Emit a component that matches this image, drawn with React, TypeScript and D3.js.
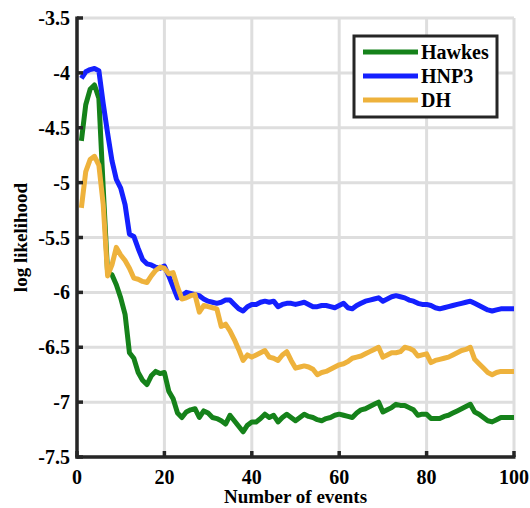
import React from "react";
import * as d3 from "d3";

const events: number[] = d3.range(1, 101);

const hawkes: number[] = [
  -4.62, -4.29, -4.15, -4.11, -4.23, -5.05, -5.82, -5.84, -5.93, -6.05,
  -6.2, -6.55, -6.6, -6.73, -6.8, -6.84, -6.76, -6.72, -6.74, -6.73,
  -6.9, -6.97, -7.1, -7.14, -7.09, -7.07, -7.06, -7.14, -7.08, -7.1,
  -7.14, -7.15, -7.17, -7.2, -7.12, -7.17, -7.22, -7.27, -7.21, -7.18,
  -7.18, -7.15, -7.11, -7.14, -7.12, -7.18, -7.14, -7.11, -7.14, -7.17,
  -7.14, -7.11, -7.13, -7.14, -7.16, -7.17, -7.15, -7.14, -7.12, -7.11,
  -7.12, -7.13, -7.14, -7.1, -7.07, -7.06, -7.04, -7.02, -7.0, -7.09,
  -7.07, -7.05, -7.02, -7.03, -7.03, -7.05, -7.07, -7.12, -7.11, -7.11,
  -7.15, -7.15, -7.15, -7.13, -7.12, -7.1, -7.08, -7.06, -7.04, -7.02,
  -7.09, -7.11, -7.14, -7.17, -7.18, -7.16, -7.14, -7.14, -7.14, -7.14,
];

const hnp3: number[] = [
  -4.05, -3.99, -3.97, -3.96, -3.98, -4.28, -4.55, -4.8, -4.97, -5.05,
  -5.2, -5.47, -5.49, -5.6, -5.7, -5.74, -5.75, -5.77, -5.78, -5.76,
  -5.85, -5.95, -6.05, -6.03, -6.0, -6.01, -6.02, -6.03, -6.06, -6.08,
  -6.09, -6.1, -6.09, -6.07, -6.07, -6.11, -6.15, -6.17, -6.13, -6.11,
  -6.11, -6.09, -6.08, -6.09, -6.08, -6.13, -6.11, -6.1, -6.1, -6.11,
  -6.1, -6.09, -6.11, -6.13, -6.13, -6.12, -6.12, -6.13, -6.14, -6.12,
  -6.1, -6.14, -6.15, -6.12, -6.1, -6.08, -6.07, -6.06, -6.05, -6.08,
  -6.06, -6.04, -6.03, -6.04, -6.05, -6.07, -6.08, -6.1, -6.11, -6.11,
  -6.12, -6.14, -6.15, -6.14, -6.13, -6.12, -6.11, -6.1, -6.09, -6.08,
  -6.1, -6.12, -6.14, -6.16, -6.17, -6.16, -6.15, -6.15, -6.15, -6.15,
];

const dh: number[] = [
  -5.23, -4.9, -4.79, -4.76, -4.84, -5.2, -5.85, -5.75, -5.59, -5.66,
  -5.71, -5.78, -5.87, -5.88, -5.9, -5.91, -5.85, -5.8, -5.77, -5.78,
  -5.83, -5.82, -5.95, -6.06, -6.05, -6.03, -6.02, -6.18, -6.12, -6.13,
  -6.14, -6.15, -6.31, -6.29, -6.35, -6.43, -6.52, -6.62, -6.57, -6.59,
  -6.57, -6.55, -6.53, -6.59, -6.6, -6.62, -6.57, -6.54, -6.62, -6.69,
  -6.68, -6.67, -6.68, -6.7, -6.75, -6.73, -6.72, -6.7, -6.68, -6.66,
  -6.65, -6.63, -6.6, -6.59, -6.58, -6.56, -6.54, -6.52, -6.5, -6.59,
  -6.57, -6.55, -6.55, -6.54, -6.5, -6.51, -6.53, -6.58, -6.57, -6.56,
  -6.64, -6.62, -6.61, -6.6, -6.59, -6.57, -6.55, -6.53, -6.52, -6.5,
  -6.61, -6.65, -6.69, -6.73, -6.75, -6.73, -6.72, -6.72, -6.72, -6.72,
];

const seriesNames: string[] = ["Hawkes", "HNP3", "DH"];
const seriesColors: string[] = ["#15821a", "#1420ff", "#eeb23c"];
const xTicks: number[] = [0, 20, 40, 60, 80, 100];
const yTicks: number[] = [-7.5, -7, -6.5, -6, -5.5, -5, -4.5, -4, -3.5];

const W = 530;
const H = 508;
const left = 77;
const right = 514;
const top = 18;
const bottom = 457;
const FONT = '"Liberation Serif", "DejaVu Serif", serif';

export default function App() {
  const x = d3.scaleLinear().domain([0, 100]).range([left, right]);
  const y = d3.scaleLinear().domain([-7.5, -3.5]).range([bottom, top]);
  const allSeries = [hawkes, hnp3, dh];
  const line = d3
    .line<number>()
    .x((_, i) => x(events[i]))
    .y((d) => y(d));

  const grid = "#dedede";
  const axisColor = "#262626";
  const textStyle = { fontFamily: FONT, fontWeight: 700 } as React.CSSProperties;

  return (
    <svg
      width={W}
      height={H}
      style={{ position: "absolute", left: 0, top: 0, background: "#fff", fontFamily: FONT, fontWeight: 700 }}
    >
      <rect x={0} y={0} width={W} height={H} fill="#fff" />
      {xTicks.map((t) => (
        <line key={"gx" + t} x1={x(t)} x2={x(t)} y1={top} y2={bottom} stroke={grid} strokeWidth={3} />
      ))}
      {yTicks.map((t) => (
        <line key={"gy" + t} x1={left} x2={right} y1={y(t)} y2={y(t)} stroke={grid} strokeWidth={3} />
      ))}
      {allSeries.map((s, i) => (
        <path
          key={seriesNames[i]}
          d={line(s) || ""}
          fill="none"
          stroke={seriesColors[i]}
          strokeWidth={5}
          strokeLinejoin="round"
          strokeLinecap="butt"
        />
      ))}
      <line x1={left} x2={left} y1={top - 1.5} y2={bottom + 1.5} stroke={axisColor} strokeWidth={3.5} />
      <line x1={left - 1.5} x2={right + 1.5} y1={bottom} y2={bottom} stroke={axisColor} strokeWidth={3.5} />
      {yTicks.map((t) => (
        <line key={"ty" + t} x1={left} x2={left + 6} y1={y(t)} y2={y(t)} stroke={axisColor} strokeWidth={3.5} />
      ))}
      {xTicks.map((t) => (
        <line key={"tx" + t} x1={x(t)} x2={x(t)} y1={bottom} y2={bottom - 6} stroke={axisColor} strokeWidth={3.5} />
      ))}
      {yTicks.map((t) => (
        <text key={"ly" + t} x={left - 7} y={y(t)} dy="0.35em" textAnchor="end" fontSize={20} fill="#000" style={textStyle}>
          {String(t)}
        </text>
      ))}
      {xTicks.map((t) => (
        <text key={"lx" + t} x={x(t)} y={484} textAnchor="middle" fontSize={20} fill="#000" style={textStyle}>
          {String(t)}
        </text>
      ))}
      <text x={(left + right) / 2} y={503} textAnchor="middle" fontSize={19} fill="#000" style={textStyle}>
        Number of events
      </text>
      <text
        transform={`translate(27,${(top + bottom) / 2}) rotate(-90)`}
        textAnchor="middle"
        fontSize={19}
        fill="#000"
        style={textStyle}
      >
        log likelihood
      </text>
      <rect x={354} y={36} width={143} height={81} fill="#fff" stroke={axisColor} strokeWidth={3} />
      {seriesNames.map((n, i) => (
        <g key={"leg" + n}>
          <line x1={363} x2={418} y1={52 + i * 24} y2={52 + i * 24} stroke={seriesColors[i]} strokeWidth={5} />
          <text x={421} y={52 + i * 24} dy="0.35em" fontSize={20} fill="#000" style={textStyle}>
            {n}
          </text>
        </g>
      ))}
    </svg>
  );
}
